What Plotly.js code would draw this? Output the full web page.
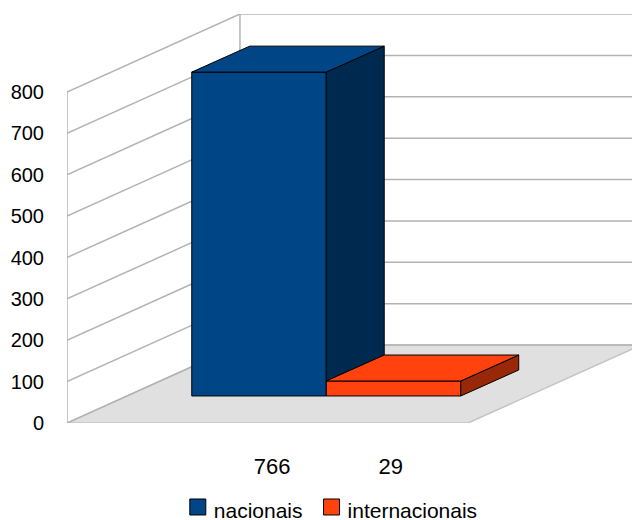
<!DOCTYPE html>
<html>
<head>
<meta charset="utf-8">
<script src="https://cdn.plot.ly/plotly-3.0.1.min.js"></script>
<style>html,body{margin:0;padding:0;background:#fff}#chart{width:632px;height:520px}</style>
</head>
<body>
<div id="chart"></div>
<script>
const seriesNames = ["nacionais", "internacionais"];
const seriesValues = [766, 29];
const categoryLabels = ["766", "29"];
const categoryLabelPositions = [0.097, 0.98];
const yTicks = [0, 100, 200, 300, 400, 500, 600, 700, 800];
const frontColors = ["#004586", "#ff420e"];
const sideColors = ["#002950", "#992809"];

// oblique projection, in axis units
const wall = {dx: 1.286, dy: 188.5};
const barDepth = {dx: 0.431, dy: 62.8};
const barBase = 65.3;
const barGain = 1.013, barLift = 6.8;
const xLeft = -1.4275, xRight = 2.7732, xFloorFront = 1.554;
const yMax = 988.5;
const gridColor = "#b3b3b3";

const tops = seriesValues.map(v => barBase + barLift + v * barGain);

function poly(points, fill) {
  return {type: "scatter", mode: "lines", x: points.map(p => p[0]), y: points.map(p => p[1]),
    fill: "toself", fillcolor: fill, line: {color: "#000", width: 1},
    showlegend: false, hoverinfo: "skip"};
}

const traces = [];
seriesNames.forEach((name, i) => {
  traces.push({type: "bar", name: name, x: [i], y: [tops[i] - barBase], base: [barBase], width: [1],
    marker: {color: frontColors[i], line: {color: "#000", width: 1}},
    customdata: [seriesValues[i]], hovertemplate: name + ": %{customdata}<extra></extra>"});
});
seriesNames.forEach((name, i) => {
  const l = i - 0.5, r = i + 0.5, t = tops[i];
  const low = i + 1 < tops.length ? Math.max(tops[i + 1], barBase) : barBase;
  traces.push(poly([[r, low], [r, t], [r + barDepth.dx, t + barDepth.dy], [r + barDepth.dx, low + barDepth.dy], [r, low]], sideColors[i]));
  traces.push(poly([[l, t], [r, t], [r + barDepth.dx, t + barDepth.dy], [l + barDepth.dx, t + barDepth.dy], [l, t]], frontColors[i]));
});

const line = (x0, y0, x1, y1) => ({type: "line", xref: "x", yref: "y", layer: "below", x0, y0, x1, y1,
  line: {color: gridColor, width: 1.5}});
const shapes = [];
const backX = xLeft + wall.dx;
shapes.push({type: "path", xref: "x", yref: "y", layer: "below",
  path: `M${xLeft},0 L${xFloorFront},0 L${xFloorFront + wall.dx},${wall.dy} L${backX},${wall.dy} Z`,
  fillcolor: "#e0e0e0", line: {color: "#c4c4c4", width: 1.5}});
yTicks.forEach(v => {
  shapes.push(line(xLeft, v, backX, v + wall.dy));
  shapes.push(line(backX, v + wall.dy, xRight, v + wall.dy));
});
shapes.push(line(xLeft, 0, xLeft, yTicks[yTicks.length - 1]));
shapes.push(line(backX, wall.dy, backX, yTicks[yTicks.length - 1] + wall.dy));

const layout = {
  width: 632, height: 520,
  margin: {l: 67, r: 0, t: 14, b: 97, pad: 0},
  paper_bgcolor: "#fff", plot_bgcolor: "#fff",
  font: {family: "Liberation Sans, Arial, sans-serif", color: "#000", size: 20},
  barmode: "overlay",
  showlegend: true,
  legend: {orientation: "h", xref: "container", yref: "container", x: 0.275, xanchor: "left", y: 0.058, yanchor: "top",
    font: {size: 21}, itemwidth: 30, itemclick: false, itemdoubleclick: false,
    traceorder: "normal", bgcolor: "rgba(0,0,0,0)"},
  xaxis: {range: [xLeft, xRight], tickmode: "array", tickvals: categoryLabelPositions, ticktext: categoryLabels,
    showgrid: false, zeroline: false, showline: false, ticks: "outside", ticklen: 24, tickcolor: "rgba(0,0,0,0)",
    tickfont: {size: 22}, fixedrange: true},
  yaxis: {range: [0, yMax], tickmode: "array", tickvals: yTicks, ticktext: yTicks.map(String),
    showgrid: false, zeroline: false, showline: false, ticks: "outside", ticklen: 18, tickcolor: "rgba(0,0,0,0)",
    tickfont: {size: 20}, fixedrange: true},
  shapes: shapes
};
Plotly.newPlot("chart", traces, layout, {displayModeBar: false}).then(() => {
  // larger legend swatches, sitting slightly above the text, as in the reference
  document.querySelectorAll(".legendpoints path").forEach(p => {
    p.setAttribute("d", "M12,5H-4V-11H12Z");
  });
});
</script>
</body>
</html>
